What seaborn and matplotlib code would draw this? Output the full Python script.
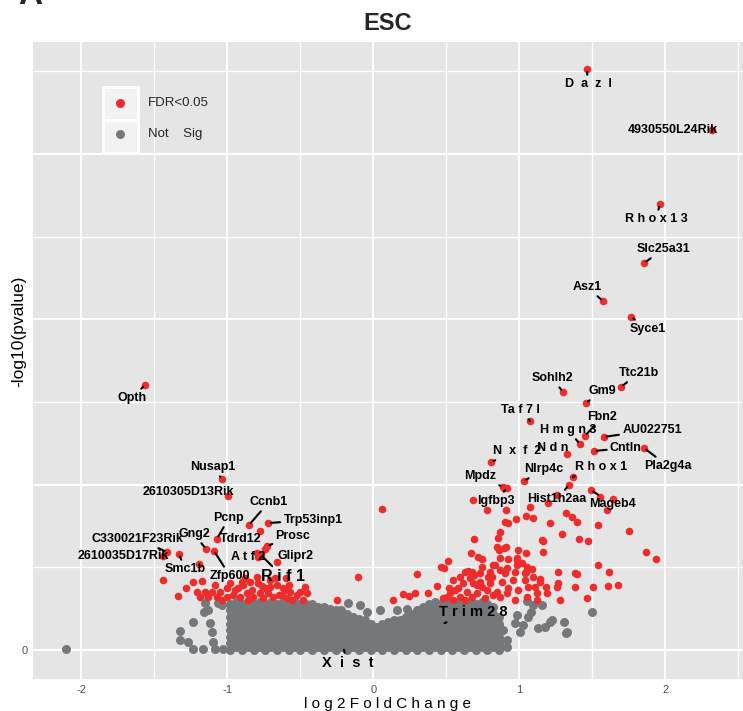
import matplotlib
matplotlib.use("Agg")
import matplotlib.pyplot as plt
from matplotlib.patches import Rectangle
import pandas as pd
import seaborn as sns

# ---------------- data (log2FoldChange, -log10 pvalue) ----------------
# significant genes (FDR<0.05), unlabeled
red_left = [(-1.442, 4.23), (-1.236, 4.11), (-1.175, 4.17), (-1.154, 3.51), (-1.209, 3.51), (-1.188, 3.21),
            (-1.106, 3.51), (-1.051, 3.51), (-1.003, 3.75), (-1.134, 3.21), (-1.072, 3.21), (-0.983, 4.05),
            (-0.928, 3.75), (-0.914, 3.21), (-0.866, 3.45), (-0.846, 4.11), (-0.791, 4.05), (-0.798, 4.42),
            (-0.743, 3.75), (-0.723, 3.45), (-0.661, 3.93), (-0.620, 3.75), (-0.627, 3.33), (-0.572, 3.51),
            (-0.524, 3.33), (-0.455, 3.45), (-0.688, 3.21), (-0.825, 3.21), (-0.962, 3.33), (-0.777, 3.45),
            (-0.709, 3.81), (-0.894, 3.93), (-1.003, 3.21), (-1.195, 5.20), (-0.901, 4.11), (-0.606, 3.63),
            (-0.503, 3.51), (-0.483, 3.05), (-0.592, 3.15), (-0.757, 3.15), (-0.250, 3.05), (-0.106, 4.42),
            (0.058, 8.53), (-0.949, 3.63), (-0.880, 4.36), (-0.832, 3.63), (-0.764, 3.87), (-0.675, 4.36),
            (-0.647, 3.33), (-0.579, 3.93), (-0.558, 3.05), (-0.469, 3.81), (-0.599, 4.36), (-0.709, 4.23),
            (-0.860, 3.05), (-1.085, 3.93), (-1.038, 3.05), (-1.284, 3.75), (-1.339, 3.27), (-0.743, 6.11),
            (-0.798, 5.87)]
red_right = [(0.682, 9.07), (0.777, 8.47), (0.908, 8.47), (0.894, 9.80), (1.257, 9.38), (1.195, 8.89),
             (1.551, 9.26), (1.640, 9.13), (1.599, 8.47), (1.538, 7.56), (1.072, 8.65), (1.045, 8.11),
             (1.092, 7.99), (0.976, 7.92), (0.901, 7.74), (0.921, 7.68), (1.209, 7.68), (1.318, 8.29),
             (1.360, 8.05), (1.394, 7.74), (1.750, 7.20), (0.866, 7.14), (0.853, 6.78), (1.291, 7.02),
             (1.408, 6.72), (1.469, 6.59), (1.154, 6.65), (0.688, 6.72), (0.846, 6.23), (0.894, 6.17),
             (0.860, 6.05), (0.990, 6.05), (1.161, 5.93), (1.866, 5.93), (1.935, 5.51), (0.668, 5.87),
             (0.716, 5.63), (0.743, 5.51), (0.510, 5.38), (0.462, 5.02), (0.483, 4.96), (0.298, 4.60),
             (1.538, 5.14), (1.264, 4.72), (1.394, 4.60), (1.613, 4.72), (1.086, 4.90), (1.045, 4.72),
             (0.983, 5.44), (1.017, 5.26), (0.921, 5.51), (0.647, 4.78), (0.688, 4.54), (0.832, 5.14),
             (0.914, 4.96), (0.592, 4.42), (0.435, 3.87), (0.284, 3.45), (0.202, 3.39), (0.243, 3.27),
             (0.134, 3.05), (1.264, 4.05), (1.257, 3.81), (1.503, 3.81), (1.606, 3.87), (1.675, 3.93),
             (1.462, 3.15), (1.277, 3.05), (1.140, 4.30), (0.675, 4.72), (0.743, 5.02), (0.818, 5.14),
             (0.866, 5.57), (0.908, 6.23), (0.983, 5.57), (1.045, 5.87), (1.161, 6.59), (1.051, 5.02),
             (0.983, 5.14), (0.866, 4.84), (0.798, 4.72), (0.729, 4.66), (0.661, 4.36), (0.729, 4.11),
             (0.812, 4.42), (0.901, 4.66), (0.969, 4.72), (1.038, 4.66), (1.092, 4.42), (1.140, 4.11),
             (1.182, 3.81), (1.106, 3.81), (1.038, 4.23), (0.955, 4.23), (0.880, 4.11), (0.798, 4.05),
             (0.709, 3.93), (0.613, 4.05), (0.579, 3.75), (0.524, 3.45), (0.503, 3.21), (0.373, 3.45),
             (0.640, 3.51), (0.709, 3.45), (0.777, 3.63), (0.846, 3.51), (0.921, 3.75), (0.990, 3.63),
             (1.058, 3.81), (1.120, 3.45), (1.188, 3.45), (1.380, 4.66), (1.380, 3.81), (0.969, 3.05),
             (1.120, 3.05), (1.051, 3.21), (0.866, 3.21), (0.764, 3.15), (0.675, 3.21), (0.592, 3.21),
             (0.545, 3.05), (0.476, 3.15), (0.914, 3.45), (0.818, 3.33), (0.743, 3.81), (0.682, 4.05),
             (0.784, 4.42), (0.627, 4.72), (0.545, 4.23), (0.517, 3.75), (0.558, 3.63), (0.627, 3.05)]

# non-significant genes outside the dense core
gray_outer = [(-2.106, 0.06), (-1.325, 1.15), (-1.325, 0.60), (-1.236, 1.69), (-1.236, 0.06), (-1.168, 0.06),
              (-1.086, 0.06), (-1.031, 0.06), (-1.271, 0.48), (-1.120, 1.63), (-1.134, 2.42), (-1.154, 2.84),
              (-1.106, 1.09), (-1.099, 0.48), (-1.065, 2.84), (-1.038, 2.72), (-1.161, 2.30), (-0.175, 2.84),
              (-0.092, 2.72), (-0.045, 2.30), (-0.229, 1.81), (0.045, 2.42), (0.161, 2.42), (0.229, 2.48),
              (1.497, 2.30), (1.318, 1.03), (1.305, 1.69), (1.209, 1.69), (1.175, 1.39), (1.127, 1.33),
              (1.079, 2.30), (0.983, 2.12), (0.914, 0.18), (0.818, 0.30), (1.325, 1.09), (1.223, 1.81),
              (1.154, 2.72), (1.092, 2.72), (1.051, 2.95), (1.003, 1.09), (0.866, 0.18), (0.914, 0.60),
              (0.887, 1.21), (0.969, 1.63), (1.058, 2.00), (1.024, 1.51)]

# dense core of non-significant genes: log2FC -> -log10 p values
gray_core = {
    -0.98: [0.0, 0.4, 0.8, 1.2, 1.6, 2.0, 2.4, 2.8],
    -0.94: [0.2, 0.6, 1.0, 1.4, 1.8, 2.2, 2.6, 2.9],
    -0.90: [0.0, 0.4, 0.8, 1.2, 1.6, 2.0, 2.4, 2.8],
    -0.86: [0.2, 0.6, 1.0, 1.4, 1.8, 2.2, 2.6, 2.9],
    -0.82: [0.0, 0.4, 0.8, 1.2, 1.6, 2.0, 2.4, 2.8],
    -0.78: [0.2, 0.6, 1.0, 1.4, 1.8, 2.2, 2.6, 2.9],
    -0.74: [0.0, 0.4, 0.8, 1.2, 1.6, 2.0, 2.4, 2.8],
    -0.70: [0.2, 0.6, 1.0, 1.4, 1.8, 2.2, 2.6, 2.9],
    -0.66: [0.0, 0.4, 0.8, 1.2, 1.6, 2.0, 2.4, 2.8],
    -0.62: [0.2, 0.6, 1.0, 1.4, 1.8, 2.2, 2.6, 2.9],
    -0.58: [0.0, 0.4, 0.8, 1.2, 1.6, 2.0, 2.4, 2.8],
    -0.54: [0.2, 0.6, 1.0, 1.4, 1.8, 2.2, 2.6, 2.9],
    -0.50: [0.0, 0.4, 0.8, 1.2, 1.6, 2.0, 2.4, 2.8],
    -0.46: [0.2, 0.6, 1.0, 1.4, 1.8, 2.2, 2.6, 2.8],
    -0.42: [0.0, 0.4, 0.8, 1.2, 1.6, 2.0, 2.4, 2.8],
    -0.38: [0.2, 0.6, 1.0, 1.4, 1.8, 2.2, 2.6],
    -0.34: [0.0, 0.4, 0.8, 1.2, 1.6, 2.0, 2.4, 2.6],
    -0.30: [0.2, 0.6, 1.0, 1.4, 1.8, 2.2, 2.5],
    -0.26: [0.0, 0.4, 0.8, 1.2, 1.6, 2.0, 2.4],
    -0.22: [0.2, 0.6, 1.0, 1.4, 1.8, 2.2, 2.4],
    -0.18: [0.0, 0.4, 0.8, 1.2, 1.6, 2.0, 2.2],
    -0.14: [0.2, 0.6, 1.0, 1.4, 1.8, 2.0],
    -0.10: [0.0, 0.4, 0.8, 1.2, 1.6, 1.9],
    -0.06: [0.2, 0.6, 1.0, 1.4, 1.8],
    -0.02: [0.0, 0.4, 0.8, 1.2, 1.6],
    0.02: [0.2, 0.6, 1.0, 1.4],
    0.06: [0.0, 0.4, 0.8, 1.2, 1.6],
    0.10: [0.2, 0.6, 1.0, 1.4, 1.7],
    0.14: [0.0, 0.4, 0.8, 1.2, 1.6, 1.8],
    0.18: [0.2, 0.6, 1.0, 1.4, 1.8],
    0.22: [0.0, 0.4, 0.8, 1.2, 1.6, 2.0],
    0.26: [0.2, 0.6, 1.0, 1.4, 1.8, 2.2],
    0.30: [0.0, 0.4, 0.8, 1.2, 1.6, 2.0, 2.4],
    0.34: [0.2, 0.6, 1.0, 1.4, 1.8, 2.2, 2.6],
    0.38: [0.0, 0.4, 0.8, 1.2, 1.6, 2.0, 2.4, 2.8],
    0.42: [0.2, 0.6, 1.0, 1.4, 1.8, 2.2, 2.6, 2.9],
    0.46: [0.0, 0.4, 0.8, 1.2, 1.6, 2.0, 2.4, 2.8],
    0.50: [0.2, 0.6, 1.0, 1.4, 1.8, 2.2, 2.6, 2.9],
    0.54: [0.0, 0.4, 0.8, 1.2, 1.6, 2.0, 2.4, 2.8],
    0.58: [0.2, 0.6, 1.0, 1.4, 1.8, 2.2, 2.6, 2.9],
    0.62: [0.0, 0.4, 0.8, 1.2, 1.6, 2.0, 2.4, 2.8],
    0.66: [0.2, 0.6, 1.0, 1.4, 1.8, 2.2, 2.6, 2.9],
    0.70: [0.0, 0.4, 0.8, 1.2, 1.6, 2.0, 2.4, 2.8],
    0.74: [0.2, 0.6, 1.0, 1.4, 1.8, 2.2, 2.6, 2.9],
    0.78: [0.0, 0.4, 0.8, 1.2, 1.6, 2.0, 2.4, 2.8],
    0.82: [0.2, 0.6, 1.0, 1.4, 1.8, 2.2, 2.6],
    0.86: [0.0, 0.4, 0.8, 1.2, 1.6, 2.0],
}

# labeled genes
genes = ["Dazl", "4930550L24Rik", "Rhox13", "Slc25a31", "Asz1", "Syce1", "Opth", "Sohlh2", "Ttc21b",
         "Gm9", "Taf7l", "Fbn2", "AU022751", "Hmgn3", "Cntln", "Pla2g4a", "Ndn", "Nxf2", "Nlrp4c",
         "Rhox1", "Mpdz", "Igfbp3", "Hist1h2aa", "Mageb4", "Nusap1", "2610305D13Rik", "Ccnb1",
         "Trp53inp1", "Pcnp", "Tdrd12", "Gng2", "Zfp600", "Prosc", "Atf2", "Glipr2", "Rif1", "Smc1b",
         "C330021F23Rik", "2610035D17Rik", "Xist", "Trim28"]
gene_lfc = [1.462, 2.318, 1.962, 1.853, 1.572, 1.764, -1.565, 1.298, 1.695,
            1.455, 1.072, 1.449, 1.579, 1.414, 1.510, 1.853, 1.325, 0.805, 1.031,
            1.366, 0.887, 0.914, 1.339, 1.490, -1.038, -0.997, -0.853,
            -0.723, -1.072, -0.777, -1.147, -1.092, -0.729, -0.791, -0.661, -0.771, -1.332,
            -1.414, -1.442, -0.209, 0.469]
gene_logp = [35.15, 31.46, 26.98, 23.41, 21.11, 20.15, 16.03, 15.61, 15.91,
             14.94, 13.85, 12.95, 12.89, 12.46, 12.04, 12.22, 11.86, 11.37, 10.22,
             10.47, 9.86, 9.80, 9.98, 9.68, 10.34, 9.32, 7.56,
             7.68, 6.72, 7.20, 6.11, 5.99, 6.29, 5.63, 5.32, 5.75, 5.81,
             5.93, 5.69, 0.18, 1.57]
gene_sig = ["FDR<0.05"] * 39 + ["Not Sig", "Not Sig"]

# ---------------- label layout (text, label x, label y, size, segment) ----------------
label_layout = {
    "Dazl": ("D  a  z  l", 1.469, 34.24, 9, True),
    "4930550L24Rik": ("4930550L24Rik", 2.051, 31.46, 9, False),
    "Rhox13": ("R h o x 1 3", 1.935, 26.07, 9, True),
    "Slc25a31": ("Slc25a31", 1.990, 24.26, 9, True),
    "Asz1": ("Asz1", 1.462, 21.96, 9, True),
    "Syce1": ("Syce1", 1.880, 19.42, 9, True),
    "Opth": ("Opth", -1.654, 15.25, 9, True),
    "Sohlh2": ("Sohlh2", 1.223, 16.45, 9, True),
    "Ttc21b": ("Ttc21b", 1.818, 16.76, 9, True),
    "Gm9": ("Gm9", 1.565, 15.67, 9, True),
    "Taf7l": ("Ta f 7 l", 1.010, 14.52, 9, True),
    "Fbn2": ("Fbn2", 1.565, 14.10, 9, True),
    "AU022751": ("AU022751", 1.908, 13.31, 9, True),
    "Hmgn3": ("H m g n 3", 1.332, 13.31, 9, True),
    "Cntln": ("Cntln", 1.729, 12.22, 9, True),
    "Pla2g4a": ("Pla2g4a", 2.017, 11.13, 9, True),
    "Ndn": ("N d n", 1.229, 12.22, 9, False),
    "Nxf2": ("N  x  f  2", 0.983, 12.04, 9, True),
    "Nlrp4c": ("Nlrp4c", 1.168, 10.95, 9, True),
    "Rhox1": ("R h o x 1", 1.558, 11.07, 9, True),
    "Mpdz": ("Mpdz", 0.729, 10.53, 9, True),
    "Igfbp3": ("Igfbp3", 0.839, 9.01, 9, True),
    "Hist1h2aa": ("Hist1h2aa", 1.257, 9.13, 9, True),
    "Mageb4": ("Mageb4", 1.634, 8.83, 9, True),
    "Nusap1": ("Nusap1", -1.099, 11.07, 9, True),
    "2610305D13Rik": ("2610305D13Rik", -1.271, 9.56, 9, False),
    "Ccnb1": ("Ccnb1", -0.716, 8.95, 9, True),
    "Trp53inp1": ("Trp53inp1", -0.414, 7.86, 9, True),
    "Pcnp": ("Pcnp", -0.990, 7.99, 9, True),
    "Tdrd12": ("Tdrd12", -0.908, 6.72, 9, False),
    "Gng2": ("Gng2", -1.229, 7.02, 9, True),
    "Zfp600": ("Zfp600", -0.983, 4.48, 9, True),
    "Prosc": ("Prosc", -0.551, 6.90, 9, True),
    "Atf2": ("A t f 2", -0.860, 5.63, 9, False),
    "Glipr2": ("Glipr2", -0.531, 5.69, 9, False),
    "Rif1": ("R i f 1", -0.620, 4.42, 11.5, True),
    "Smc1b": ("Smc1b", -1.291, 4.90, 9, True),
    "C330021F23Rik": ("C330021F23Rik", -1.620, 6.72, 9, True),
    "2610035D17Rik": ("2610035D17Rik", -1.716, 5.69, 9, False),
    "Xist": ("X  i  s  t", -0.175, -0.79, 10.5, True),
    "Trim28": ("T r i m 2 8", 0.682, 2.30, 10.5, True),
}

# ---------------- assemble table ----------------
rows = []
for x, ys in gray_core.items():
    for y in ys:
        rows.append((x, y, "Not Sig"))
rows += [(x, y, "Not Sig") for x, y in gray_outer]
rows += [(x, y, "FDR<0.05") for x, y in red_left + red_right]
rows += list(zip(gene_lfc, gene_logp, gene_sig))
df = pd.DataFrame(rows, columns=["log2FoldChange", "logp", "group"])

RED = "#EE2C2C"
GREY = "#75787A"

sns.set_theme(style="darkgrid")
plt.rcParams["font.family"] = ["Liberation Sans", "DejaVu Sans"]

fig = plt.figure(figsize=(7.43, 7.11), dpi=100)
ax = fig.add_axes([33 / 743, 32 / 711, 710 / 743, 637 / 711])
ax.set_facecolor("#E5E5E5")

sns.scatterplot(data=df[df.group == "Not Sig"], x="log2FoldChange", y="logp", color=GREY,
                s=42, linewidth=0, ax=ax, legend=False, zorder=2)
sns.scatterplot(data=df[df.group == "FDR<0.05"], x="log2FoldChange", y="logp", color=RED,
                s=30, linewidth=0, ax=ax, legend=False, zorder=3)

ax.set_xlim(-2.332, 2.531)
ax.set_ylim(-1.754, 36.78)
ax.set_xticks([-2, -1, 0, 1, 2])
ax.set_xticks([-1.5, -0.5, 0.5, 1.5, 2.5], minor=True)
ax.set_yticks([0, 10, 20, 30])
ax.set_yticks([5, 15, 25, 35], minor=True)
ax.set_xticklabels(["-2", "-1", "0", "1", "2"])
ax.set_yticklabels(["0", "", "", ""])
ax.grid(which="major", color="white", linewidth=1.45)
ax.grid(which="minor", color="white", linewidth=0.95)
ax.tick_params(axis="both", which="major", length=3, width=1.0, color="#333333",
               labelsize=8, labelcolor="#4D4D4D", pad=1)
ax.tick_params(axis="both", which="minor", length=0)
for sp in ax.spines.values():
    sp.set_visible(False)

ax.set_xlabel("l o g 2 F o l d C h a n g e", fontsize=11, color="black")
ax.xaxis.set_label_coords(0.5, -0.029)
ax.set_ylabel("-log10(pvalue)", fontsize=12.5, color="black")
ax.yaxis.set_label_coords(-0.010, 0.546)

fig.text(388 / 743, 1 - 23 / 711, "ESC", ha="center", va="center", fontsize=17, fontweight="bold")
fig.text(18 / 743, 1 - 4 / 711, "A", ha="left", va="baseline", fontsize=24, fontweight="bold")

# gene labels
for g, gx, gy in zip(genes, gene_lfc, gene_logp):
    text, lx, ly, fs, seg = label_layout[g]
    kw = dict(ha="center", va="center", fontsize=fs, fontweight="bold", color="black", zorder=5)
    if seg:
        ax.annotate(text, xy=(gx, gy), xytext=(lx, ly),
                    arrowprops=dict(arrowstyle="-", color="black", lw=1.5, shrinkA=0, shrinkB=2), **kw)
    else:
        ax.annotate(text, xy=(lx, ly), **kw)

# legend (ggplot-like keys)
for y0 in (0.878, 0.826):
    ax.add_patch(Rectangle((0.0986, y0), 0.0494, 0.052, transform=ax.transAxes,
                           facecolor="#F2F2F2", edgecolor="white", linewidth=2.2, zorder=6))
ax.scatter([0.1225], [0.904], s=42, color=RED, linewidth=0, transform=ax.transAxes, zorder=7)
ax.scatter([0.1225], [0.856], s=42, color=GREY, linewidth=0, transform=ax.transAxes, zorder=7)
ax.text(0.162, 0.904, "FDR<0.05", transform=ax.transAxes, va="center", ha="left", fontsize=9.5, zorder=7)
ax.text(0.162, 0.856, "Not    Sig", transform=ax.transAxes, va="center", ha="left", fontsize=9.5, zorder=7)

fig.savefig("out.png", dpi=100)
